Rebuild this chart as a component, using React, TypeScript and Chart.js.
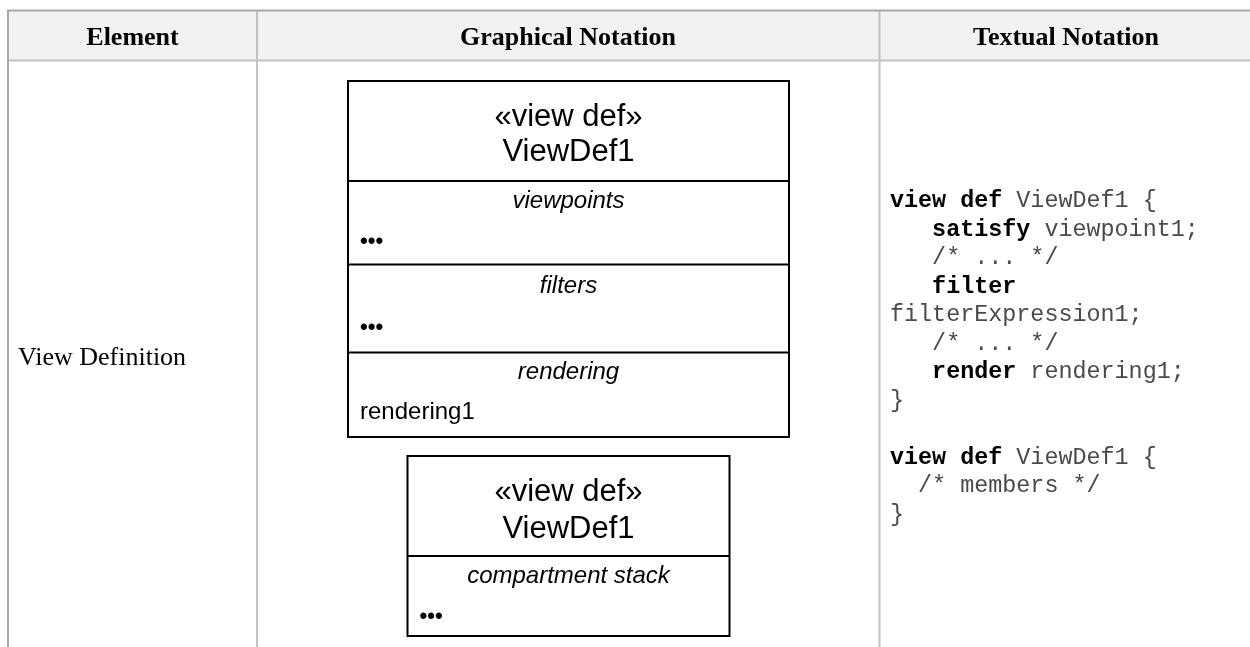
import React, { useEffect, useRef } from "react";
import { Chart, registerables } from "chart.js";

Chart.register(...registerables);

// ---------- content ----------
const columnHeaders = ["Element", "Graphical Notation", "Textual Notation"];
const rowLabels = ["View Definition"];

const fullBoxStereotype = "«view def»";
const fullBoxName = "ViewDef1";
const fullBoxTitles = ["viewpoints", "filters", "rendering"];
const fullBoxBodies = ["•••", "•••", "rendering1"];

const stackBoxStereotype = "«view def»";
const stackBoxName = "ViewDef1";
const stackBoxTitles = ["compartment stack"];
const stackBoxBodies = ["•••"];

type Seg = [string, boolean];
const codeLines: Seg[][] = [
  [["view def", true], [" ViewDef1 {", false]],
  [["   ", false], ["satisfy", true], [" viewpoint1;", false]],
  [["   /* ... */", false]],
  [["   ", false], ["filter", true]],
  [["filterExpression1;", false]],
  [["   /* ... */", false]],
  [["   ", false], ["render", true], [" rendering1;", false]],
  [["}", false]],
  [],
  [["view def", true], [" ViewDef1 {", false]],
  [["  /* members */", false]],
  [["}", false]],
];

// ---------- layout (page px) ----------
const PAGE_W = 1250;
const PAGE_H = 647;
const tableLeft = 8;
const tableTop = 10.5;
const headerBottom = 60.5;
const colLines = [257, 879.5];
const headerCenters = [132.5, 568, 1066];
const headerBaseline = 45;
const rowLabelX = 18;
const rowLabelBaseline = 365;

const fullBox = {
  left: 348, right: 789, top: 81, headDiv: 181,
  bottoms: [264.5, 352.5, 437],
  stereoBase: 126, nameBase: 161,
  titleBase: [208, 293, 379],
  bodyCenter: [242, 328, 412],
};
const stackBox = {
  left: 407.5, right: 729.5, top: 456, headDiv: 556,
  bottoms: [636],
  stereoBase: 501, nameBase: 538,
  titleBase: [583],
  bodyCenter: [617],
};

const codeX = 890;
const codeFirstBaseline = 207;
const codeLineStep = 28.5;

const SANS = '"Liberation Sans", Arial, sans-serif';
const SERIF = '"Liberation Serif", "Times New Roman", serif';
const MONO = '"Liberation Mono", "Courier New", monospace';

const tablePlugin = {
  id: "notationTable",
  afterDraw(chart: any) {
    const ctx: CanvasRenderingContext2D = chart.ctx;
    const xs = chart.scales.x;
    const ys = chart.scales.y;
    const X = (v: number) => xs.getPixelForValue(v);
    const Y = (v: number) => ys.getPixelForValue(v);

    ctx.save();
    // background
    ctx.fillStyle = "#ffffff";
    ctx.fillRect(X(0), Y(0), X(PAGE_W) - X(0), Y(PAGE_H) - Y(0));
    // header background
    ctx.fillStyle = "#f2f2f2";
    ctx.fillRect(X(tableLeft), Y(tableTop), X(PAGE_W) - X(tableLeft), Y(headerBottom) - Y(tableTop));

    const line = (x1: number, y1: number, x2: number, y2: number, w: number, c: string) => {
      ctx.beginPath();
      ctx.strokeStyle = c;
      ctx.lineWidth = w;
      ctx.moveTo(X(x1), Y(y1));
      ctx.lineTo(X(x2), Y(y2));
      ctx.stroke();
    };

    // inner grid
    line(tableLeft, headerBottom, PAGE_W, headerBottom, 2, "#c2c2c2");
    colLines.forEach((cx) => line(cx, tableTop, cx, PAGE_H, 2, "#c2c2c2"));
    // outer border
    line(tableLeft - 1, tableTop, PAGE_W, tableTop, 2, "#a8a8a8");
    line(tableLeft, tableTop, tableLeft, PAGE_H, 2, "#a8a8a8");

    // headers
    ctx.fillStyle = "#000";
    ctx.font = `bold 26px ${SERIF}`;
    ctx.textAlign = "center";
    ctx.textBaseline = "alphabetic";
    columnHeaders.forEach((h, i) => ctx.fillText(h, X(headerCenters[i]), Y(headerBaseline)));

    // row label
    ctx.font = `26px ${SERIF}`;
    ctx.textAlign = "left";
    ctx.fillText(rowLabels[0], X(rowLabelX), Y(rowLabelBaseline));

    // boxes
    const drawBox = (b: any, stereo: string, name: string, titles: string[], bodies: string[]) => {
      ctx.fillStyle = "#fff";
      ctx.fillRect(X(b.left), Y(b.top), X(b.right) - X(b.left), Y(b.bottoms[b.bottoms.length - 1]) - Y(b.top));
      ctx.strokeStyle = "#000";
      ctx.lineWidth = 2;
      ctx.strokeRect(X(b.left), Y(b.top), X(b.right) - X(b.left), Y(b.bottoms[b.bottoms.length - 1]) - Y(b.top));
      line(b.left, b.headDiv, b.right, b.headDiv, 2, "#000");
      b.bottoms.slice(0, -1).forEach((d: number) => line(b.left, d, b.right, d, 2, "#000"));
      const cx = (b.left + b.right) / 2;
      ctx.fillStyle = "#000";
      ctx.textAlign = "center";
      ctx.textBaseline = "alphabetic";
      ctx.font = `31px ${SANS}`;
      ctx.fillText(stereo, X(cx), Y(b.stereoBase));
      ctx.fillText(name, X(cx), Y(b.nameBase));
      titles.forEach((t, i) => {
        ctx.font = `italic 24px ${SANS}`;
        ctx.textAlign = "center";
        ctx.textBaseline = "alphabetic";
        ctx.fillText(t, X(cx), Y(b.titleBase[i]));
        const body = bodies[i];
        ctx.textAlign = "left";
        ctx.textBaseline = "middle";
        if (body === "•••") {
          ctx.font = `bold 22px ${SANS}`;
        } else {
          ctx.font = `24px ${SANS}`;
        }
        ctx.fillText(body, X(b.left + 12), Y(b.bodyCenter[i]));
      });
    };
    drawBox(fullBox, fullBoxStereotype, fullBoxName, fullBoxTitles, fullBoxBodies);
    drawBox(stackBox, stackBoxStereotype, stackBoxName, stackBoxTitles, stackBoxBodies);

    // code
    ctx.textAlign = "left";
    ctx.textBaseline = "alphabetic";
    codeLines.forEach((segs, i) => {
      let x = X(codeX);
      const y = Y(codeFirstBaseline + i * codeLineStep);
      segs.forEach(([text, bold]) => {
        ctx.font = `${bold ? "bold " : ""}23.4px ${MONO}`;
        ctx.fillStyle = bold ? "#000" : "#4a4a4a";
        ctx.fillText(text, x, y);
        x += ctx.measureText(text).width;
      });
    });
    ctx.restore();
  },
};

export default function App() {
  const ref = useRef<HTMLCanvasElement | null>(null);
  useEffect(() => {
    if (!ref.current) return;
    const chart = new Chart(ref.current, {
      type: "scatter",
      data: { datasets: [] },
      options: {
        responsive: false,
        animation: false,
        layout: { padding: 0 },
        plugins: { legend: { display: false }, tooltip: { enabled: false }, title: { display: false } },
        events: [],
        scales: {
          x: { type: "linear", min: 0, max: PAGE_W, display: false },
          y: { type: "linear", min: 0, max: PAGE_H, reverse: true, display: false },
        },
      },
      plugins: [tablePlugin],
    } as any);
    return () => chart.destroy();
  }, []);
  return (
    <div style={{ position: "absolute", left: 0, top: 0, width: PAGE_W, height: PAGE_H, background: "#fff" }}>
      <canvas ref={ref} width={PAGE_W} height={PAGE_H} style={{ display: "block" }} />
    </div>
  );
}
